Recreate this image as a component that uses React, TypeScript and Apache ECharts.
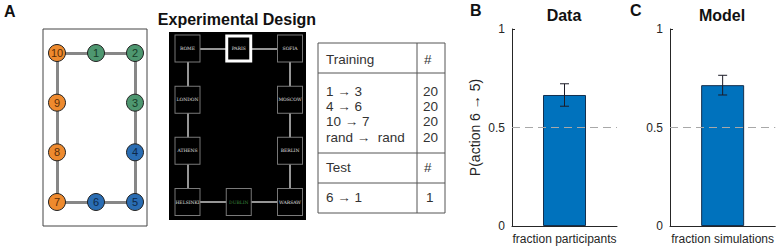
import React, { useEffect, useRef } from "react";
import * as echarts from "echarts";

// Panel A: state graph
const nodeLabels = ["10", "1", "2", "9", "3", "8", "4", "7", "6", "5"];
const nodeCol = [0, 1, 2, 0, 2, 0, 2, 0, 1, 2];
const nodeRow = [0, 0, 0, 1, 1, 2, 2, 3, 3, 3];
const nodeGroup = ["orange", "green", "green", "orange", "green", "orange", "blue", "orange", "blue", "blue"];
const ringOrder = ["1", "2", "3", "4", "5", "6", "7", "8", "9", "10"];

// Experimental design: cities placed at the same positions
const cityNames = ["ROME", "PARIS", "SOFIA", "LONDON", "MOSCOW", "ATHENS", "BERLIN", "HELSINKI", "DUBLIN", "WARSAW"];

// Table
const trainingRoutes = ["1 \u2192 3", "4 \u2192 6", "10 \u2192 7", "rand \u2192  rand"];
const trainingCounts = ["20", "20", "20", "20"];
const testRoutes = ["6 \u2192 1"];
const testCounts = ["1"];

// Panels B, C
const dataCategories = ["fraction participants"];
const dataMean = [0.665];
const dataErr = [0.057];
const modelCategories = ["fraction simulations"];
const modelMean = [0.715];
const modelErr = [0.05];
const yTicks = [0, 0.5, 1];

const groupColors: Record<string, string> = {
  orange: "#EE8A2E",
  green: "#4E9770",
  blue: "#2A6DB3",
};
const groupText: Record<string, string> = {
  orange: "#5a2e08",
  green: "#173a27",
  blue: "#0d2848",
};

const FONT = "'Liberation Sans', Arial, Helvetica, sans-serif";
const AX = "#262626";

function errorSeries(xi: number, yi: number, mean: number[], err: number[]) {
  return {
    type: "custom",
    xAxisIndex: xi,
    yAxisIndex: yi,
    z: 5,
    data: mean.map((m, i) => [i, m, err[i]]),
    renderItem: (params: any, api: any) => {
      const x = api.value(0);
      const m = api.value(1);
      const e = api.value(2);
      const top = api.coord([x, m + e]);
      const bot = api.coord([x, m - e]);
      const cap = 4.5;
      const st = { stroke: "#1c1c28", lineWidth: 1 };
      return {
        type: "group",
        children: [
          { type: "line", shape: { x1: top[0], y1: top[1], x2: bot[0], y2: bot[1] }, style: st },
          { type: "line", shape: { x1: top[0] - cap, y1: top[1], x2: top[0] + cap, y2: top[1] }, style: st },
          { type: "line", shape: { x1: bot[0] - cap, y1: bot[1], x2: bot[0] + cap, y2: bot[1] }, style: st },
        ],
      };
    },
  };
}

function barSeries(xi: number, yi: number, mean: number[]) {
  return {
    type: "bar",
    xAxisIndex: xi,
    yAxisIndex: yi,
    data: mean,
    barWidth: 43,
    itemStyle: { color: "#0072BD", borderColor: "#14304f", borderWidth: 1 },
    markLine: {
      silent: true,
      symbol: ["none", "none"],
      label: { show: false },
      lineStyle: { color: "#a8a8a8", type: [8, 5], width: 1 },
      data: [{ yAxis: 0.5 }],
    },
  };
}

function catAxis(gi: number, cats: string[]) {
  return {
    type: "category",
    gridIndex: gi,
    data: cats,
    axisLine: { show: true, lineStyle: { color: AX, width: 1 } },
    axisTick: { show: false },
    axisLabel: { color: AX, fontSize: 12, fontFamily: FONT, margin: 7 },
  };
}

function valAxis(gi: number, name: string) {
  return {
    type: "value",
    gridIndex: gi,
    min: 0,
    max: 1,
    interval: 0.5,
    name,
    nameLocation: "middle",
    nameGap: 30,
    nameTextStyle: { color: AX, fontSize: 14, fontFamily: FONT },
    axisLine: { show: true, lineStyle: { color: AX, width: 1 } },
    axisTick: { show: true, inside: true, length: 3, lineStyle: { color: AX } },
    splitLine: { show: false },
    axisLabel: {
      color: AX,
      fontSize: 12,
      fontFamily: FONT,
      margin: 7,
      formatter: (v: number) => (yTicks.includes(v) ? String(v) : ""),
    },
  };
}

export default function App() {
  const ref = useRef<HTMLDivElement>(null);
  useEffect(() => {
    document.body.style.margin = "0";
    if (!ref.current) return;
    const chart = echarts.init(ref.current, undefined, { renderer: "svg" });

    const graphNodes = nodeLabels.map((n, i) => ({
      name: n,
      value: [nodeCol[i], nodeRow[i]],
      itemStyle: { color: groupColors[nodeGroup[i]], borderColor: "#222", borderWidth: 1 },
      label: { color: groupText[nodeGroup[i]] },
    }));
    const graphLinks = ringOrder.map((n, i) => ({ source: n, target: ringOrder[(i + 1) % ringOrder.length] }));

    const cityNodes = cityNames.map((c, i) => ({
      name: c,
      value: [nodeCol[i], nodeRow[i]],
      symbolSize: c === "PARIS" ? [24, 25] : [25, 27],
      itemStyle:
        c === "PARIS"
          ? { color: "#000", borderColor: "#fff", borderWidth: 3 }
          : { color: "#000", borderColor: "#7a7a7a", borderWidth: 1 },
      label: { color: c === "DUBLIN" ? "#3f8a3f" : "#e0e0e0" },
    }));
    const cityLinks = ringOrder.map((n, i) => ({
      source: cityNames[nodeLabels.indexOf(n)],
      target: cityNames[nodeLabels.indexOf(ringOrder[(i + 1) % ringOrder.length])],
    }));

    // Table geometry
    const tL = 318, tR = 445, tC = 417, tTop = 43, tBot = 213;
    const r1 = 73, r2 = 153, r3 = 183;
    const tableGraphics: any[] = [
      { type: "rect", z: 1, shape: { x: tL, y: tTop, width: tR - tL, height: tBot - tTop }, style: { fill: "#fff", stroke: "#555", lineWidth: 1 } },
      { type: "line", z: 1, shape: { x1: tC, y1: tTop, x2: tC, y2: tBot }, style: { stroke: "#555", lineWidth: 1 } },
      { type: "line", z: 1, shape: { x1: tL, y1: r1, x2: tR, y2: r1 }, style: { stroke: "#555", lineWidth: 1 } },
      { type: "line", z: 1, shape: { x1: tL, y1: r2, x2: tR, y2: r2 }, style: { stroke: "#555", lineWidth: 1 } },
      { type: "line", z: 1, shape: { x1: tL, y1: r3, x2: tR, y2: r3 }, style: { stroke: "#555", lineWidth: 1 } },
    ];
    const tTxt = (text: string, x: number, y: number) => ({
      type: "text",
      z: 2,
      x,
      y,
      style: { text, fill: "#333", font: `13.5px ${FONT}`, textVerticalAlign: "middle", textAlign: "left" },
    });
    tableGraphics.push(tTxt("Training", 326, 59));
    tableGraphics.push(tTxt("#", 424, 59));
    trainingRoutes.forEach((r, i) => {
      tableGraphics.push(tTxt(r, 326, 91 + i * 15.4));
      tableGraphics.push(tTxt(trainingCounts[i], 423, 91 + i * 15.4));
    });
    tableGraphics.push(tTxt("Test", 326, 167));
    tableGraphics.push(tTxt("#", 424, 167));
    testRoutes.forEach((r, i) => {
      tableGraphics.push(tTxt(r, 326, 197 + i * 15.4));
      tableGraphics.push(tTxt(testCounts[i], 426, 197 + i * 15.4));
    });

    const bold = (text: string, x: number, y: number, size: number, align = "center") => ({
      type: "text",
      z: 10,
      x,
      y,
      style: { text, fill: "#111", font: `bold ${size}px ${FONT}`, textAlign: align, textVerticalAlign: "middle" },
    });

    chart.setOption({
      animation: false,
      textStyle: { fontFamily: FONT },
      grid: [
        { left: 512, top: 29, width: 105, height: 197 },
        { left: 670, top: 29, width: 106, height: 197 },
        { left: 57, top: 53, width: 78, height: 149 },
        { left: 187.5, top: 48.5, width: 102.5, height: 153.5 },
      ],
      xAxis: [
        catAxis(0, dataCategories),
        catAxis(1, modelCategories),
        { type: "value", gridIndex: 2, min: 0, max: 2, show: false },
        { type: "value", gridIndex: 3, min: 0, max: 2, show: false },
      ],
      yAxis: [
        valAxis(0, "P(action 6 \u2192 5)"),
        valAxis(1, ""),
        { type: "value", gridIndex: 2, min: 0, max: 3, inverse: true, show: false },
        { type: "value", gridIndex: 3, min: 0, max: 3, inverse: true, show: false },
      ],
      graphic: [
        { type: "rect", z: 0, shape: { x: 43, y: 29, width: 104, height: 197 }, style: { fill: "#fff", stroke: "#444", lineWidth: 1 } },
        { type: "rect", z: 0, shape: { x: 169, y: 32, width: 137, height: 188 }, style: { fill: "#000" } },
        ...tableGraphics,
        bold("A", 4, 11, 16, "left"),
        bold("Experimental Design", 237, 19, 16),
        bold("B", 470, 10, 16, "left"),
        bold("Data", 564, 15, 16),
        bold("C", 630, 10, 16, "left"),
        bold("Model", 722, 15, 16),
      ],
      series: [
        barSeries(0, 0, dataMean),
        errorSeries(0, 0, dataMean, dataErr),
        barSeries(1, 1, modelMean),
        errorSeries(1, 1, modelMean, modelErr),
        {
          type: "graph",
          coordinateSystem: "cartesian2d",
          xAxisIndex: 2,
          yAxisIndex: 2,
          symbol: "circle",
          symbolSize: 17,
          z: 3,
          data: graphNodes,
          links: graphLinks,
          lineStyle: { color: "#878787", width: 3, opacity: 1 },
          label: { show: true, position: "inside", fontSize: 11, fontFamily: FONT },
          emphasis: { disabled: true },
        },
        {
          type: "graph",
          coordinateSystem: "cartesian2d",
          xAxisIndex: 3,
          yAxisIndex: 3,
          symbol: "rect",
          z: 3,
          data: cityNodes,
          links: cityLinks,
          lineStyle: { color: "#c8c8c8", width: 1.5, opacity: 1 },
          label: { show: true, position: "inside", fontSize: 4.5, fontFamily: "'DejaVu Serif', 'Liberation Serif', serif" },
          emphasis: { disabled: true },
        },
      ],
    });
    return () => chart.dispose();
  }, []);
  return <div ref={ref} style={{ width: 777, height: 248 }} />;
}
